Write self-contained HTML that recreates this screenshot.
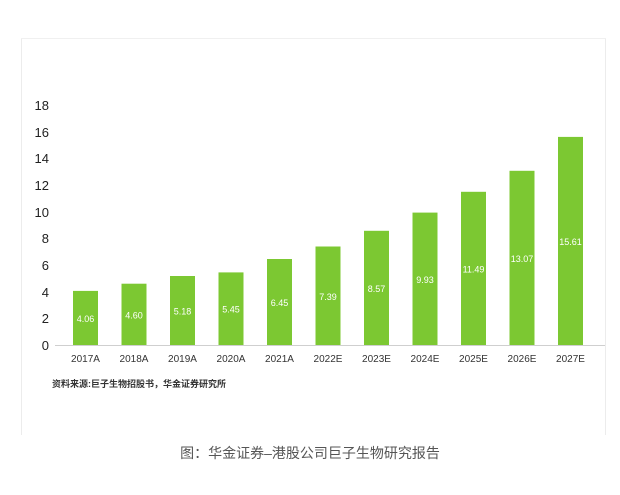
<!DOCTYPE html>
<html><head><meta charset="utf-8"><style>
body{margin:0;background:#fff;}
</style></head><body>
<svg width="620" height="495" xmlns="http://www.w3.org/2000/svg" style="display:block">
<rect x="0" y="0" width="620" height="495" fill="#fff"/>
<path d="M21.5 38 V435 M605.5 38 V435" stroke="#ececec" stroke-width="1"/>
<path d="M21 38.5 H606" stroke="#f0f0f0"/>
<g font-family="Liberation Sans, sans-serif" font-size="13" fill="#222" text-anchor="end">
<text x="49" y="350">0</text><text x="49" y="323">2</text><text x="49" y="297">4</text>
<text x="49" y="270">6</text><text x="49" y="243">8</text><text x="49" y="217">10</text>
<text x="49" y="190">12</text><text x="49" y="163">14</text><text x="49" y="137">16</text>
<text x="49" y="110">18</text>
</g>
<line x1="55" y1="345.5" x2="605" y2="345.5" stroke="#cfcfcf"/>
<g fill="#7cc832">
<rect x="73" y="290.9" width="25" height="54.1"/>
<rect x="121.5" y="283.7" width="25" height="61.3"/>
<rect x="170" y="276" width="25" height="69"/>
<rect x="218.5" y="272.4" width="25" height="72.6"/>
<rect x="267" y="259" width="25" height="86"/>
<rect x="315.5" y="246.5" width="25" height="98.5"/>
<rect x="364" y="230.8" width="25" height="114.2"/>
<rect x="412.5" y="212.6" width="25" height="132.4"/>
<rect x="461" y="191.8" width="25" height="153.2"/>
<rect x="509.5" y="170.8" width="25" height="174.2"/>
<rect x="558" y="136.9" width="25" height="208.1"/>
</g>
<g font-family="Liberation Sans, sans-serif" font-size="9" fill="#fff" text-anchor="middle">
<text x="85.5" y="322">4.06</text>
<text x="134" y="318.4">4.60</text>
<text x="182.5" y="314.5">5.18</text>
<text x="231" y="312.7">5.45</text>
<text x="279.5" y="306">6.45</text>
<text x="328" y="299.8">7.39</text>
<text x="376.5" y="291.9">8.57</text>
<text x="425" y="282.8">9.93</text>
<text x="473.5" y="272.4">11.49</text>
<text x="522" y="261.9">13.07</text>
<text x="570.5" y="245">15.61</text>
</g>
<g font-family="Liberation Sans, sans-serif" font-size="10" fill="#333" text-anchor="middle">
<text x="85.5" y="362">2017A</text>
<text x="134" y="362">2018A</text>
<text x="182.5" y="362">2019A</text>
<text x="231" y="362">2020A</text>
<text x="279.5" y="362">2021A</text>
<text x="328" y="362">2022E</text>
<text x="376.5" y="362">2023E</text>
<text x="425" y="362">2024E</text>
<text x="473.5" y="362">2025E</text>
<text x="522" y="362">2026E</text>
<text x="570.5" y="362">2027E</text>
</g>
<text x="52" y="387" font-family="Liberation Sans, Noto Sans CJK SC, sans-serif" font-size="9" font-weight="bold" fill="#333">资料来源:巨子生物招股书，华金证券研究所</text>
<text x="310" y="458" text-anchor="middle" font-family="Liberation Sans, Noto Sans CJK SC, sans-serif" font-size="14" fill="#555">图：华金证券–港股公司巨子生物研究报告</text>
</svg>
</body></html>
